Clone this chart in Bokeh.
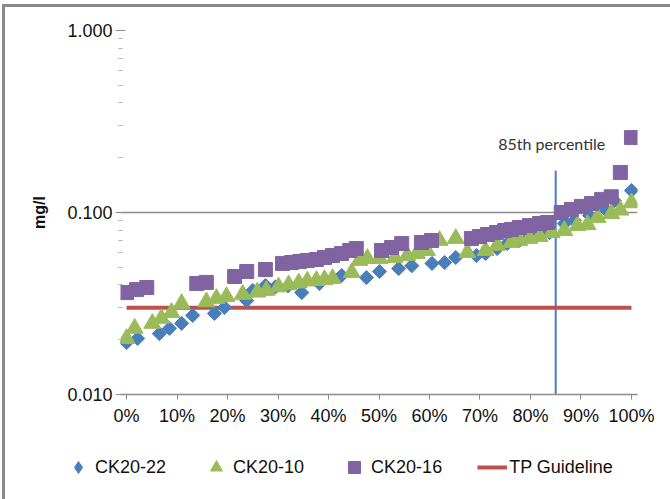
from bokeh.plotting import figure
from bokeh.layouts import column
from bokeh.models import (Range1d, FixedTicker, NumeralTickFormatter, Legend, LegendItem,
                          Label, ColumnDataSource)
from bokeh.embed import file_html
from bokeh.resources import INLINE
import math

# ---------------- data (percentile rank in %, concentration in mg/l) ----------------
ck22_pct = [0.0, 2.2, 6.5, 8.5, 10.9, 13.1, 17.4, 19.4, 23.8, 25.0, 27.5, 29.5, 32.0, 34.7,
            38.2, 42.6, 47.5, 50.1, 53.9, 56.5, 60.5, 63.0, 65.2, 69.3, 71.1, 73.4, 75.4,
            77.8, 79.8, 81.8, 83.8, 86.7, 88.7, 91.7, 94.7, 96.6, 100.0]
ck22_val = [0.0193, 0.0203, 0.0216, 0.0231, 0.0246, 0.0272, 0.0279, 0.0301, 0.0328, 0.0373,
            0.0397, 0.0390, 0.0395, 0.0363, 0.0407, 0.0451, 0.0439, 0.0474, 0.0492, 0.0510,
            0.0525, 0.0531, 0.0566, 0.0580, 0.0595, 0.0634, 0.0676, 0.0702, 0.0738, 0.0767,
            0.0776, 0.0870, 0.0904, 0.0963, 0.105, 0.116, 0.132]

ck10_pct = [0.0, 1.6, 5.1, 6.9, 8.9, 10.9, 15.8, 17.8, 19.8, 23.0, 25.9, 27.7, 30.1, 32.1,
            34.1, 35.8, 37.6, 39.2, 40.8, 44.6, 46.1, 47.7, 50.1, 53.1, 55.6, 57.5, 59.5,
            62.0, 65.2, 67.5, 71.1, 73.4, 76.2, 77.8, 79.8, 81.8, 84.2, 86.7, 89.3, 91.3,
            93.3, 96.0, 97.8, 100.0]
ck10_val = [0.0203, 0.0231, 0.0246, 0.0262, 0.0282, 0.0316, 0.0323, 0.0337, 0.0345, 0.0355,
            0.0365, 0.0373, 0.0390, 0.0400, 0.0410, 0.0420, 0.0423, 0.0428, 0.0434, 0.0468,
            0.0545, 0.0559, 0.0559, 0.0566, 0.0580, 0.0595, 0.0618, 0.0702, 0.0720, 0.0603,
            0.0618, 0.0659, 0.0684, 0.0702, 0.0720, 0.0738, 0.0776, 0.0796, 0.0848, 0.0859,
            0.0939, 0.0987, 0.103, 0.113]

ck16_pct = [0.0, 2.0, 4.0, 13.9, 15.8, 21.4, 23.8, 27.5, 30.9, 32.7, 34.3, 35.8, 37.6, 39.2,
            40.8, 42.6, 44.2, 45.5, 50.5, 52.5, 54.5, 58.4, 60.4, 68.3, 69.9, 71.5, 73.3,
            74.9, 76.2, 77.8, 79.8, 81.8, 83.4, 86.1, 88.1, 90.1, 92.1, 94.1, 96.0, 97.8,
            100.0]
ck16_val = [0.0363, 0.0377, 0.0387, 0.0407, 0.0413, 0.0445, 0.0474, 0.0486, 0.0525, 0.0531,
            0.0538, 0.0545, 0.0552, 0.0566, 0.0580, 0.0595, 0.0618, 0.0634, 0.0618, 0.0642,
            0.0675, 0.0684, 0.0702, 0.0720, 0.0738, 0.0757, 0.0776, 0.0796, 0.0807, 0.0827,
            0.0848, 0.0870, 0.0881, 0.100, 0.104, 0.108, 0.112, 0.118, 0.122, 0.166, 0.258]

guide_pct = [0.0, 100.0]
guide_val = [0.03, 0.03]

p85_pct = [85.0]
p85_low = [0.01]
p85_high = [0.17]

x_ticks = [0, 10, 20, 30, 40, 50, 60, 70, 80, 90, 100]
y_ticks = [0.01, 0.1, 1.0]

BLUE = "#4a7ebb"
GREEN = "#9bbb59"
PURPLE = "#8064a2"
RED = "#c0504d"
FONT = "Liberation Sans"

p = figure(width=665, height=433, y_axis_type="log",
           x_range=Range1d(-0.012, 1.012), y_range=Range1d(0.01, 1.0),
           output_backend="svg", toolbar_location=None,
           min_border_left=115, min_border_right=33, min_border_top=23, min_border_bottom=46)
p.frame_align = False
p.outline_line_color = None
p.background_fill_color = "white"
p.border_fill_color = "white"

# grid
p.xgrid.grid_line_color = None
p.ygrid.ticker = FixedTicker(ticks=y_ticks)
p.ygrid.grid_line_color = "#8c8c8c"
p.ygrid.grid_line_width = 1.5

# x axis
xa = p.xaxis[0]
xa.ticker = FixedTicker(ticks=[t / 100 for t in x_ticks])
xa.formatter = NumeralTickFormatter(format="0%")
xa.axis_line_color = "#8c8c8c"
xa.axis_line_width = 1.5
xa.major_tick_line_color = "#8c8c8c"
xa.major_tick_in = 0
xa.major_tick_out = 5
xa.minor_tick_line_color = None
xa.major_label_text_font = FONT
xa.major_label_text_font_size = "18px"
xa.major_label_text_color = "#111111"
xa.major_label_standoff = 6

# y axis
ya = p.yaxis[0]
ya.ticker = FixedTicker(ticks=y_ticks,
                        minor_ticks=[m * 10 ** e for e in (-2, -1) for m in range(2, 10)])
ya.formatter = NumeralTickFormatter(format="0.000")
ya.axis_line_color = None
ya.major_tick_line_color = "#8c8c8c"
ya.major_tick_in = 5
ya.major_tick_out = 5
ya.minor_tick_line_color = "#b0b0b0"
ya.minor_tick_in = 2
ya.minor_tick_out = 2
ya.major_label_text_font = FONT
ya.major_label_text_font_size = "18px"
ya.major_label_text_color = "#111111"
ya.major_label_standoff = 3
ya.axis_label = "mg/l"
ya.axis_label_text_font = FONT
ya.axis_label_text_font_style = "bold"
ya.axis_label_text_font_size = "16px"
ya.axis_label_text_color = "#111111"
ya.axis_label_standoff = 16

# 85th percentile line
src85 = ColumnDataSource(dict(x=[v / 100 for v in p85_pct], y0=p85_low, y1=p85_high))
p.segment(x0="x", y0="y0", x1="x", y1="y1", source=src85, line_color=BLUE, line_width=2)

# series
s22 = ColumnDataSource(dict(x=[v / 100 for v in ck22_pct], y=ck22_val))
s10 = ColumnDataSource(dict(x=[v / 100 for v in ck10_pct], y=ck10_val))
s16 = ColumnDataSource(dict(x=[v / 100 for v in ck16_pct], y=ck16_val))
sg = ColumnDataSource(dict(x=[v / 100 for v in guide_pct], y=guide_val))

r_guide = p.line("x", "y", source=sg, line_color=RED, line_width=4)
r22 = p.scatter("x", "y", source=s22, marker="square", angle=math.pi / 4, size=10,
                fill_color=BLUE, line_color=BLUE)
r10 = p.scatter("x", "y", source=s10, marker="triangle", size=17,
                fill_color=GREEN, line_color=GREEN)
r16 = p.scatter("x", "y", source=s16, marker="square", size=14,
                fill_color=PURPLE, line_color=PURPLE)

# annotation text
lbl = Label(x=0.85, y=0.24, text="85th percentile", text_font="Lato",
            text_font_size="16px", text_color="#333333", text_align="center",
            text_baseline="middle", x_offset=-4)
p.add_layout(lbl)

# ---------------- legend strip below the chart ----------------
p2 = figure(width=665, height=59, x_range=Range1d(0, 1), y_range=Range1d(0, 1),
            output_backend="svg", toolbar_location=None,
            x_axis_location=None, y_axis_location=None,
            min_border_left=0, min_border_right=0, min_border_top=0, min_border_bottom=0)
p2.frame_align = False
p2.outline_line_color = None
p2.xgrid.grid_line_color = None
p2.ygrid.grid_line_color = None
p2.border_fill_color = "white"

leg22 = p2.scatter([0.5], [0.5], marker="diamond", size=12,
                   fill_color=BLUE, line_color=BLUE, visible=False)
leg10 = p2.scatter([0.5], [0.5], marker="triangle", size=12,
                   fill_color=GREEN, line_color=GREEN, visible=False)
leg16 = p2.scatter([0.5], [0.5], marker="square", size=12,
                   fill_color=PURPLE, line_color=PURPLE, visible=False)
legline = p2.line([0.4, 0.6], [0.5, 0.5], line_color=RED, line_width=4, visible=False)

legend = Legend(items=[LegendItem(label="CK20-22", renderers=[leg22]),
                       LegendItem(label="CK20-10", renderers=[leg10]),
                       LegendItem(label="CK20-16", renderers=[leg16]),
                       LegendItem(label="TP Guideline", renderers=[legline])],
                orientation="horizontal", location=(58, 17),
                label_text_font=FONT, label_text_font_size="18px",
                label_text_color="#111111", glyph_width=30, glyph_height=30,
                label_standoff=2, spacing=35, padding=0, margin=0,
                border_line_color=None, background_fill_alpha=0)
p2.add_layout(legend, "center")

layout = column(p, p2, spacing=0,
                styles={"margin-left": "2px", "margin-top": "4px",
                        "border-left": "3px solid #8a8a8a", "border-top": "3px solid #8a8a8a"})

open("out.html", "w").write(file_html(layout, INLINE))
